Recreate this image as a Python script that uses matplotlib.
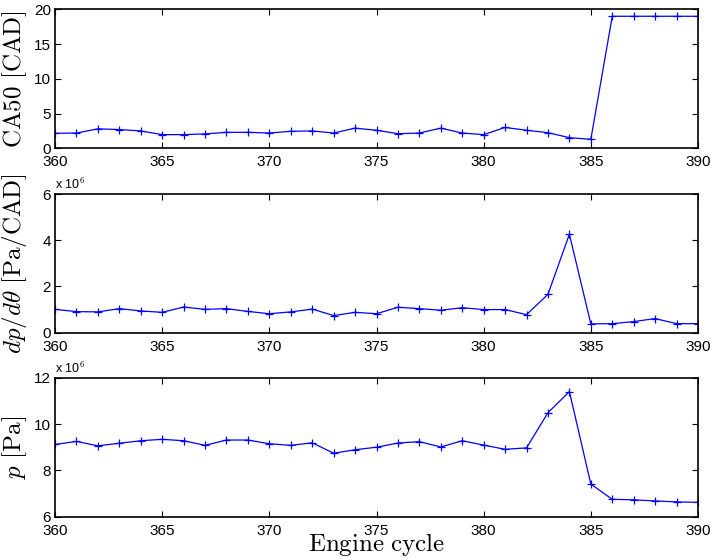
import matplotlib.pyplot as plt
from matplotlib.ticker import FuncFormatter

plt.rcParams['mathtext.fontset'] = 'cm'
plt.rcParams['font.family'] = ['Liberation Sans', 'DejaVu Sans']

cycles = list(range(360, 391))

# CA50 per cycle [CAD]
ca50 = [2.16, 2.2, 2.8, 2.7, 2.5, 1.97, 1.97, 2.07, 2.3, 2.3,
        2.2, 2.45, 2.5, 2.2, 2.9, 2.6, 2.1, 2.2, 2.9, 2.2,
        1.97, 3.0, 2.6, 2.25, 1.53, 1.3, 19.0, 19.0, 19.0, 19.0, 19.0]

# max pressure rise rate [Pa/CAD]
dpdtheta = [1.01e6, 0.91e6, 0.90e6, 1.04e6, 0.94e6, 0.88e6, 1.11e6, 1.01e6, 1.04e6, 0.92e6,
            0.82e6, 0.90e6, 1.02e6, 0.74e6, 0.88e6, 0.82e6, 1.10e6, 1.04e6, 0.97e6, 1.08e6,
            1.00e6, 1.00e6, 0.78e6, 1.66e6, 4.26e6, 0.38e6, 0.39e6, 0.48e6, 0.61e6, 0.39e6, 0.39e6]

# max pressure [Pa]
pmax = [9.12e6, 9.25e6, 9.06e6, 9.17e6, 9.28e6, 9.34e6, 9.28e6, 9.08e6, 9.31e6, 9.31e6,
        9.15e6, 9.08e6, 9.19e6, 8.74e6, 8.89e6, 9.00e6, 9.18e6, 9.24e6, 9.01e6, 9.28e6,
        9.09e6, 8.91e6, 8.97e6, 10.49e6, 11.40e6, 7.41e6, 6.75e6, 6.73e6, 6.68e6, 6.64e6, 6.62e6]

xticks = [360, 365, 370, 375, 380, 385, 390]


def style_axis(ax, ylim, yticks):
    ax.set_xlim(360, 390)
    ax.set_ylim(*ylim)
    ax.set_xticks(xticks)
    ax.set_yticks(yticks)
    ax.tick_params(direction='in', top=True, right=True, length=4,
                   width=0.8, labelsize=11)
    ax.tick_params(axis='x', pad=5)
    ax.tick_params(axis='y', pad=3)
    for s in ax.spines.values():
        s.set_linewidth(1.2)
    ax.yaxis.set_label_coords(-0.041, 0.5)


fig = plt.figure(figsize=(7.11, 5.58), dpi=100)
ax1 = fig.add_axes([0.0774, 0.7342, 0.9043, 0.2491])
ax2 = fig.add_axes([0.0774, 0.4038, 0.9043, 0.2485])
ax3 = fig.add_axes([0.0774, 0.0740, 0.9043, 0.2491])

line_kw = dict(color='blue', linewidth=0.9, marker='+', markersize=6, markeredgewidth=0.9)

ax1.plot(cycles, ca50, **line_kw)
style_axis(ax1, (0, 20), [0, 5, 10, 15, 20])
ax1.set_ylabel(r'$\mathrm{CA50\ [CAD]}$', fontsize=18)

ax2.plot(cycles, dpdtheta, **line_kw)
style_axis(ax2, (0, 6e6), [0, 2e6, 4e6, 6e6])
ax2.set_ylabel(r'$dp/d\theta\ [\mathrm{Pa/CAD}]$', fontsize=18)

ax3.plot(cycles, pmax, **line_kw)
style_axis(ax3, (6e6, 12e6), [6e6, 8e6, 10e6, 12e6])
ax3.set_ylabel(r'$p\ [\mathrm{Pa}]$', fontsize=18)
ax3.set_xlabel(r'$\mathrm{Engine\ cycle}$', fontsize=18, labelpad=-5)

fmt = FuncFormatter(lambda v, _: f'{v / 1e6:g}')
for ax in (ax2, ax3):
    ax.yaxis.set_major_formatter(fmt)
    ax.text(0.0, 1.015, r'x 10$^{6}$', transform=ax.transAxes, fontsize=9,
            ha='left', va='bottom')

fig.savefig('out.png', dpi=100)
